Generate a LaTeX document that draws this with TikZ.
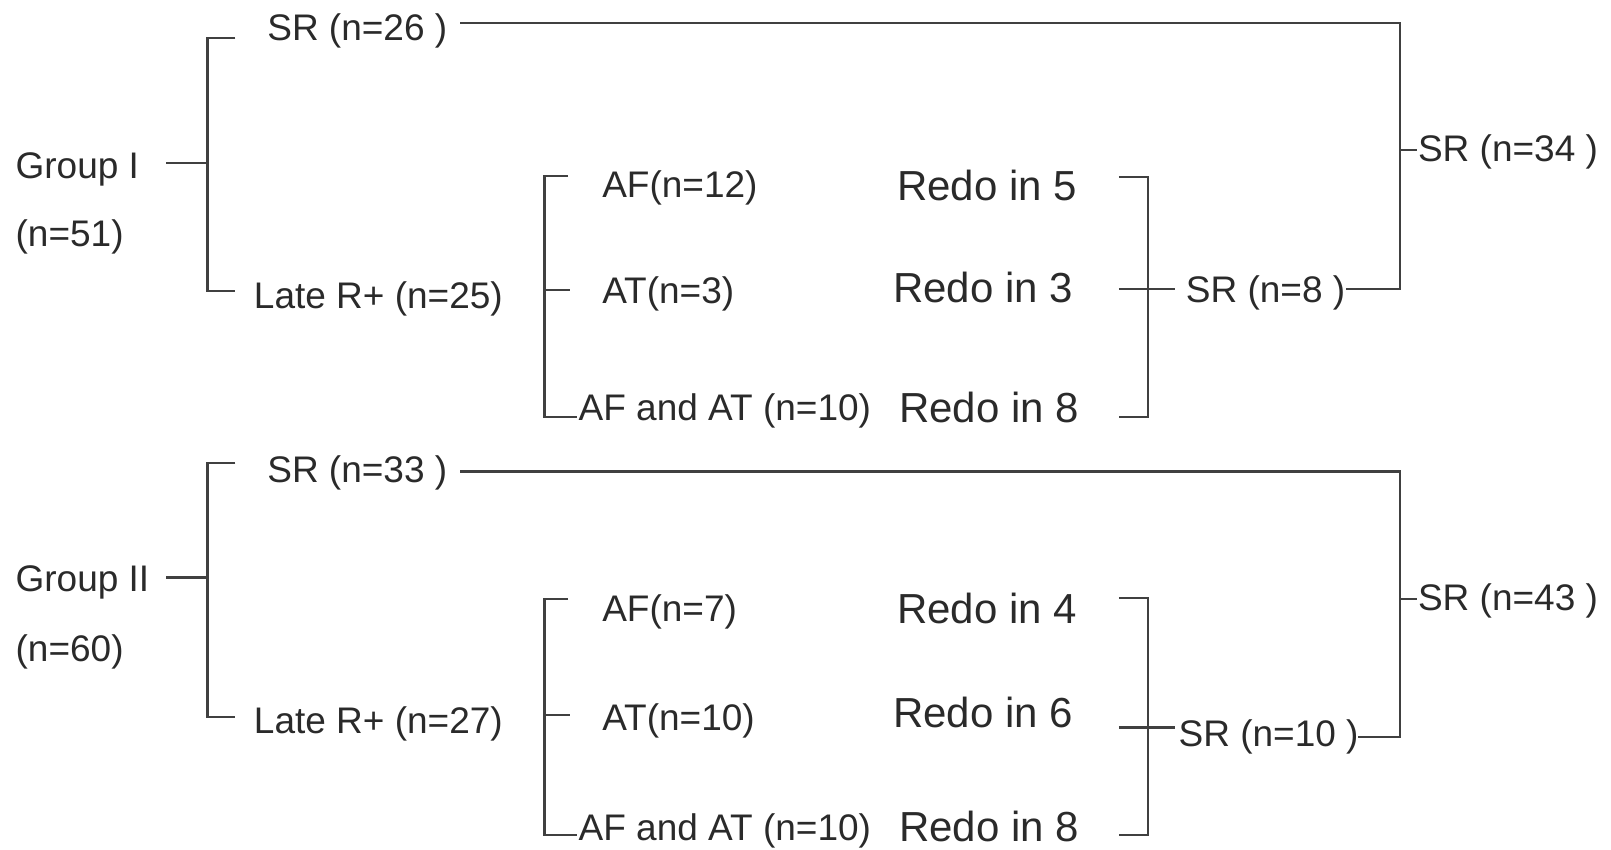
\documentclass[tikz,border=0pt]{standalone}
\usepackage{fontspec}
\setmainfont{Liberation Sans}
\definecolor{txt}{HTML}{2A2A2A}
\definecolor{ln}{HTML}{404040}
\begin{document}
\begin{tikzpicture}[x=1.0274pt,y=-1.0274pt,
  lbl/.style={anchor=west,inner sep=0pt,text height=26.6pt,text depth=0pt,
              text=txt,font=\fontsize{37}{40}\selectfont},
  redo/.style={lbl,text height=30.2pt,font=\fontsize{42}{46}\selectfont},
  link/.style={draw=ln,line width=2.2pt}]
\useasboundingbox (0,0) rectangle (1568,827);

% ---------------- Group I ----------------
\node[lbl] (g1)    at (15,161)  {Group I};
\node[lbl] (n1)    at (15,227)  {(n=51)};
\node[lbl] (sr26)  at (260,26)  {SR (n=26 )};
\node[lbl] (late1) at (247,287) {Late R+ (n=25)};
\node[lbl] (af1)   at (586,179) {AF(n=12)};
\node[lbl] (at1)   at (586,282) {AT(n=3)};
\node[lbl] (afat1) at (563,396) {AF and AT (n=10)};
\node[redo] (r5)   at (873,180) {Redo in 5};
\node[redo] (r3)   at (869,280) {Redo in 3};
\node[redo] (r8a)  at (875,397) {Redo in 8};
\node[lbl] (sr8)   at (1154,281) {SR (n=8 )};
\node[lbl] (sr34)  at (1380,144) {SR (n=34 )};

% first split
\coordinate (g1s) at (162,159);
\coordinate (k1m) at (202,159);
\coordinate (k1t) at (229,37);
\coordinate (k1b) at (229,283);
\draw[link] (g1s) -- (k1m);
\draw[link] (k1t) -| (k1m) |- (k1b);

% second split
\coordinate (q1t) at (553,171);
\coordinate (q1m) at (530,282);
\coordinate (q1e) at (555,282);
\coordinate (q1b) at (562,406);
\draw[link] (q1t) -| (q1m) |- (q1b);
\draw[link] (q1m) -- (q1e);

% merge bracket
\coordinate (m1t) at (1089,172);
\coordinate (m1x) at (1117,281);
\coordinate (m1b) at (1089,406);
\coordinate (m1l) at (1089,281);
\coordinate (m1r) at (1144,281);
\draw[link] (m1t) -| (m1x) |- (m1b);
\draw[link] (m1l) -- (m1r);

% outer merge
\coordinate (a1)  at (448,22);
\coordinate (c1t) at (1363,22);
\coordinate (c1m) at (1363,146);
\coordinate (c1e) at (1379,146);
\coordinate (c1b) at (1363,281);
\coordinate (s8e) at (1310,281);
\draw[link] (a1) -- (c1t) -- (c1b) -- (s8e);
\draw[link] (c1m) -- (c1e);

% ---------------- Group II ----------------
\node[lbl] (g2)    at (15,563)  {Group II};
\node[lbl] (n2)    at (15,631)  {(n=60)};
\node[lbl] (sr33)  at (260,457) {SR (n=33 )};
\node[lbl] (late2) at (247,701) {Late R+ (n=27)};
\node[lbl] (af2)   at (586,592) {AF(n=7)};
\node[lbl] (at2)   at (586,698) {AT(n=10)};
\node[lbl] (afat2) at (563,805) {AF and AT (n=10)};
\node[redo] (r4)   at (873,592) {Redo in 4};
\node[redo] (r6)   at (869,693) {Redo in 6};
\node[redo] (r8b)  at (875,804) {Redo in 8};
\node[lbl] (sr10)  at (1147,714) {SR (n=10 )};
\node[lbl] (sr43)  at (1380,581) {SR (n=43 )};

% first split
\coordinate (g2s) at (162,562);
\coordinate (k2m) at (202,562);
\coordinate (k2t) at (229,451);
\coordinate (k2b) at (229,698);
\draw[link] (g2s) -- (k2m);
\draw[link] (k2t) -| (k2m) |- (k2b);

% second split
\coordinate (q2t) at (553,583);
\coordinate (q2m) at (530,696);
\coordinate (q2e) at (555,696);
\coordinate (q2b) at (562,813);
\draw[link] (q2t) -| (q2m) |- (q2b);
\draw[link] (q2m) -- (q2e);

% merge bracket
\coordinate (m2t) at (1089,582);
\coordinate (m2x) at (1117,708);
\coordinate (m2b) at (1089,813);
\coordinate (m2l) at (1089,708);
\coordinate (m2r) at (1144,708);
\draw[link] (m2t) -| (m2x) |- (m2b);
\draw[link] (m2l) -- (m2r);

% outer merge
\coordinate (a2)  at (448,459);
\coordinate (c2t) at (1363,459);
\coordinate (c2m) at (1363,583);
\coordinate (c2e) at (1379,583);
\coordinate (c2b) at (1363,717);
\coordinate (s10e) at (1322,717);
\draw[link] (a2) -- (c2t) -- (c2b) -- (s10e);
\draw[link] (c2m) -- (c2e);
\end{tikzpicture}
\end{document}
